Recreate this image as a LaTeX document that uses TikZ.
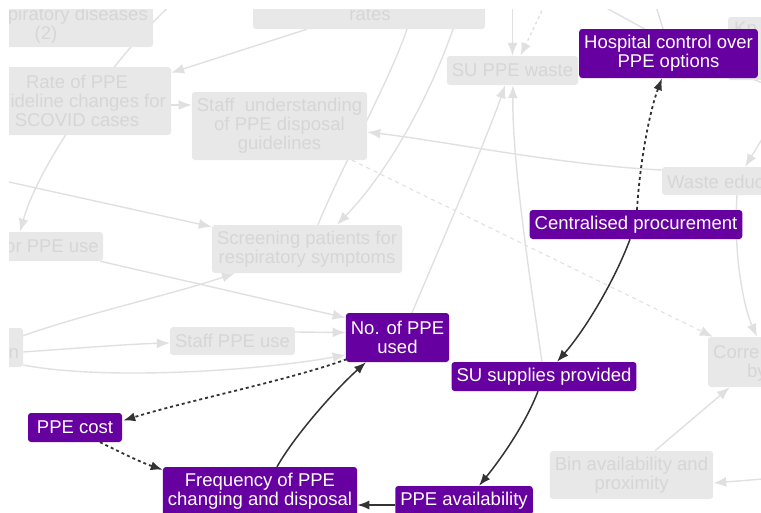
\documentclass[tikz,border=0pt]{standalone}
\usepackage{fontspec}
\setmainfont{Liberation Sans}
\usetikzlibrary{arrows.meta,backgrounds}

\definecolor{vio}{RGB}{102,0,160}
\definecolor{ink}{RGB}{51,51,51}
\definecolor{gfill}{RGB}{232,232,232}
\definecolor{gtext}{RGB}{214,214,214}
\definecolor{gline}{RGB}{224,224,224}

\begin{document}
\begin{tikzpicture}[x=1pt,y=-1pt,
  lab/.style={font=\fontsize{18.5}{19}\selectfont, align=center,
    inner xsep=5pt, inner ysep=2pt, rounded corners=3pt},
  key/.style={lab, fill=vio, text=white, minimum height=29pt},
  key2/.style={key, minimum height=49pt},
  bg/.style={lab, fill=gfill, text=gtext},
  box/.style={fill=gfill, rounded corners=3pt, inner sep=0pt},
  frag/.style={font=\fontsize{18.5}{19}\selectfont, text=gtext, inner sep=0pt},
  gplain/.style={draw=gline, line width=1.4pt},
  glink/.style={gplain, -{Latex[length=13pt,width=10pt]}},
  link/.style={draw=ink, line width=1.5pt, -{Latex[length=12pt,width=9pt]}},
  dotlink/.style={link, line width=1.8pt, dash pattern=on 3pt off 3pt},
]
\useasboundingbox (0,0) rectangle (761,512);

\begin{scope}
\clip (9,9) rectangle (761,512);

% ---------- faded context boxes ----------
\node[box, minimum width=214pt, minimum height=49pt] (resp) at (46,22.5) {};
\node[frag, anchor=base east] (resp-a) at (148,20) {piratory diseases};
\node[frag, anchor=base] (resp-b) at (46,39) {(2)};

\node[box, minimum width=232pt, minimum height=49pt] (rates) at (369,4.5) {};
\node[frag, anchor=base] (rates-a) at (370,20) {rates};

\node[box, minimum width=188pt, minimum height=68pt] (guid) at (77,101) {};
\node[frag, anchor=base] (guid-a) at (77,88) {Rate of PPE};
\node[frag, anchor=base east] (guid-b) at (166,107) {ideline changes for};
\node[frag, anchor=base] (guid-c) at (77,126) {SCOVID cases};

\node[bg, minimum width=175pt, minimum height=68pt] (stud) at (279.5,126)
  {Staff\ \ understanding\\of PPE disposal\\guidelines};

\node[box, minimum width=203pt, minimum height=29pt] (ppeuse) at (1.5,246.5) {};
\node[frag, anchor=base east] (ppeuse-a) at (99,252.5) {or PPE use};

\node[bg, minimum width=190pt, minimum height=48pt] (screen) at (307,249)
  {Screening patients for\\respiratory symptoms};

\node[box, minimum width=123pt, minimum height=39pt] (nbox) at (-38.5,347.5) {};
\node[frag, anchor=base east] (nbox-a) at (19,358) {n};

\node[bg, minimum height=28pt] (staffuse) at (232.5,341) {Staff PPE use};
\node[bg, minimum height=29pt] (suwaste) at (512.5,70.5) {SU PPE waste};

\node[box, minimum width=172pt, minimum height=63pt] (kn) at (814,48.5) {};
\node[frag, anchor=base west] (kn-a) at (734,34.5) {Kn};

\node[box, minimum width=198pt, minimum height=28pt] (wasteedu) at (761,181) {};
\node[frag, anchor=base west] (wasteedu-a) at (667,188) {Waste educ};

\node[box, minimum width=152pt, minimum height=50pt] (corre) at (784,362) {};
\node[frag, anchor=base west] (corre-a) at (713,358) {Corre};
\node[frag, anchor=base west] (corre-b) at (747,377) {by};

\node[bg, minimum width=163pt, minimum height=48pt] (bin) at (631.5,475)
  {Bin availability and\\proximity};

% ---------- highlighted factors ----------
\node[key2] (hosp) at (668.5,53.5) {Hospital control over\\PPE options};
\node[key] (cent) at (636,224.5) {Centralised procurement};
\node[key] (susup) at (544,376.5) {SU supplies provided};
\node[key] (avail) at (464,500.5) {PPE availability};
\node[key2] (freq) at (260,491.5) {Frequency of PPE\\changing and disposal};
\node[key, minimum width=94pt] (cost) at (75,427.5) {PPE cost};
\node[key2] (noppe) at (397.5,337.5) {No. of PPE\\used};

% ---------- highlighted links ----------
\draw[dotlink] ([xshift=1pt]cent.north) .. controls (640,160) and (650,110) .. ([xshift=-6.5pt]hosp.south);
\draw[link] ([xshift=-6pt]cent.south) .. controls (615,280) and (585,330) .. ([xshift=13pt]susup.north);
\draw[link] ([xshift=-6pt]susup.south) .. controls (525,425) and (500,460) .. ([xshift=15pt]avail.north);
\draw[link] ([yshift=-4.5pt]avail.west) -- ([yshift=-13.5pt]freq.east);
\draw[link] ([xshift=17pt]freq.north) .. controls (295,435) and (335,390) .. ([xshift=-31.5pt]noppe.south);
\draw[dotlink] ([xshift=1pt,yshift=3pt]noppe.south west) .. controls (290,380) and (190,400) .. ([xshift=1pt,yshift=7pt]cost.east);
\draw[dotlink] ([xshift=25pt]cost.south) .. controls (120,452) and (140,462) .. ([yshift=-3pt]freq.north west);
\end{scope}

% ---------- faded links, behind every box ----------
\begin{scope}[on background layer]
\clip (9,9) rectangle (761,512);
\draw[glink] (176,0) .. controls (120,50) and (40,160) .. ([xshift=18.5pt]ppeuse.north);
\draw[glink] ([xshift=-62pt]rates.south) -- ([yshift=-6pt]guid.north east);
\draw[glink] ([yshift=-4pt]guid.east) -- ([yshift=21pt]stud.west);
\draw[glink] ([yshift=11pt]wasteedu.west) .. controls (560,165) and (450,142) .. ([yshift=-6pt]stud.east);
\draw[gplain] ([xshift=38pt]rates.south) .. controls (390,80) and (340,170) .. ([xshift=11pt]screen.north);
\draw[glink] ([xshift=84pt]rates.south) .. controls (430,95) and (390,170) .. ([xshift=30pt]screen.north);
\draw[glink, dash pattern=on 3pt off 3pt] (547,0) -- ([xshift=8pt]suwaste.north);
\draw[glink] (512.5,0) -- (suwaste.north);
\draw[glink] ([xshift=14.5pt]noppe.north) .. controls (445,235) and (490,130) .. ([xshift=-7.5pt]suwaste.south);
\draw[glink] ([xshift=-2pt]susup.north) .. controls (530,280) and (512,160) .. ([xshift=0.5pt]suwaste.south);
\draw[glink, line width=1.1pt, dash pattern=on 4pt off 4pt] ([xshift=72.5pt]stud.south) -- ([xshift=5pt]corre.north west);
\draw[glink] (0,180) -- ([yshift=-2pt]screen.north west);
\draw[glink] ([xshift=-3pt]ppeuse.south east) -- ([yshift=-5pt]noppe.north west);
\draw[glink] ([xshift=-3pt,yshift=-9pt]nbox.north east) .. controls (80,315) and (170,295) .. ([xshift=-72pt]screen.south);
\draw[glink] ([yshift=-4.5pt]nbox.east) .. controls (80,348) and (130,344) .. ([yshift=-2pt]staffuse.west);
\draw[glink] ([yshift=9pt]staffuse.east) -- ([yshift=5pt]noppe.west);
\draw[glink] ([yshift=-17.5pt]nbox.east) .. controls (100,380) and (250,372) .. ([yshift=-17.5pt]noppe.west);
\draw[gplain] (592,0) -- (650,32);
\draw[gplain] (654,0) -- (664,32);
\draw[gplain] (740,74) -- (775,88);
\draw[glink] (775,118) -- ([xshift=-16pt]wasteedu.north);
\draw[glink] ([xshift=-24pt]wasteedu.south) .. controls (733,260) and (745,310) .. ([xshift=-27pt]corre.north);
\draw[glink] ([xshift=23.5pt]bin.north) -- ([xshift=22pt]corre.south west);
\draw[glink] (775,478) -- ([yshift=-8pt]bin.east);
\end{scope}
\end{tikzpicture}
\end{document}
